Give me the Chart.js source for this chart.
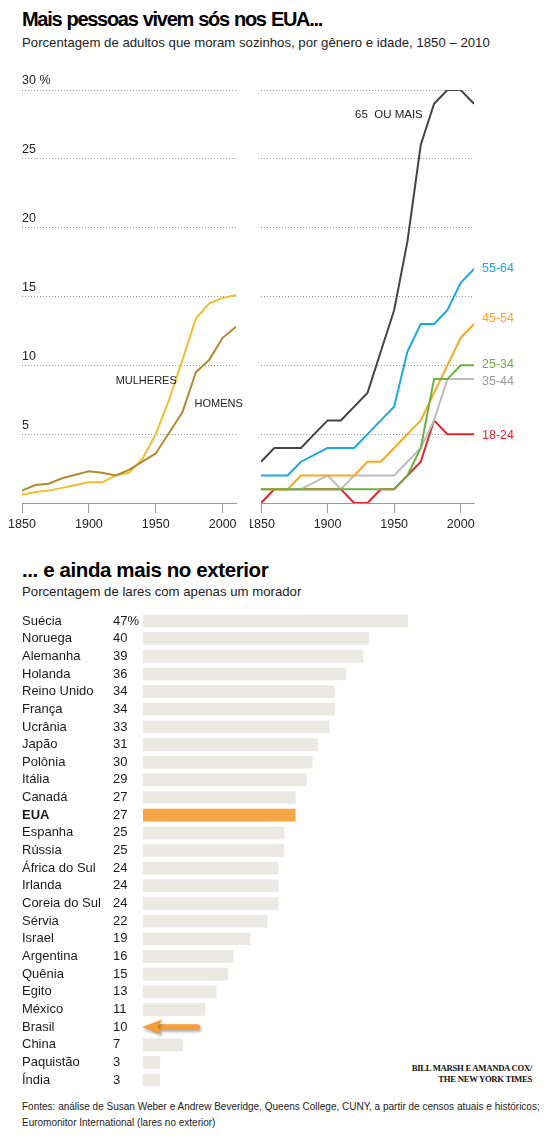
<!DOCTYPE html>
<html>
<head>
<meta charset="utf-8">
<script src="https://cdn.jsdelivr.net/npm/chart.js@4.4.1/dist/chart.umd.min.js"></script>
<style>
  html, body { margin: 0; padding: 0; background: #fff; }
  body { width: 550px; height: 1138px; position: relative; overflow: hidden; font-family: "Liberation Sans", Arial, sans-serif; color: #111; }
  .abs { position: absolute; white-space: nowrap; }
  #t1 { left: 22px; top: 8px; font-size: 20px; font-weight: bold; letter-spacing: -1.3px; word-spacing: 1px; color: #000; }
  #s1 { left: 22px; top: 35px; font-size: 13.2px; color: #222; }
  #t2 { left: 22px; top: 558px; font-size: 20.5px; font-weight: bold; letter-spacing: -0.4px; color: #000; }
  #s2 { left: 22px; top: 584px; font-size: 13.2px; color: #222; }
  #credit { right: 18px; top: 1063px; font-family: "Liberation Serif", "Times New Roman", serif; font-weight: bold; font-size: 8.7px; text-align: right; line-height: 11px; color: #111; letter-spacing: -0.3px; }
  #foot { left: 22px; top: 1099px; font-size: 10px; line-height: 16px; color: #222; }
  canvas { position: absolute; }
</style>
</head>
<body>
<div class="abs" id="t1">Mais pessoas vivem sós nos EUA...</div>
<div class="abs" id="s1">Porcentagem de adultos que moram sozinhos, por gênero e idade, 1850 – 2010</div>
<div class="abs" id="t2">... e ainda mais no exterior</div>
<div class="abs" id="s2">Porcentagem de lares com apenas um morador</div>
<div class="abs" id="credit">BILL MARSH E AMANDA COX/<br>THE NEW YORK TIMES</div>
<div class="abs" id="foot">Fontes: análise de Susan Weber e Andrew Beveridge, Queens College, CUNY, a partir de censos atuais e históricos;<br>Euromonitor International (lares no exterior)</div>

<div style="position:absolute;left:0;top:60px;width:250px;height:480px;"><canvas id="cLeft"></canvas></div>
<div style="position:absolute;left:250px;top:60px;width:300px;height:480px;"><canvas id="cRight"></canvas></div>
<div style="position:absolute;left:0;top:600px;width:550px;height:500px;"><canvas id="cBar"></canvas></div>

<script>
// ---------- DATA ----------
const years = [1850,1860,1870,1880,1890,1900,1910,1920,1930,1940,1950,1960,1970,1980,1990,2000,2010];
const xTickYears = [1850,1900,1950,2000];
const yTickValues = [0,5,10,15,20,25,30];

const mulheres = [0.6,0.8,0.9,1.1,1.3,1.5,1.5,2.0,2.2,3.2,5.0,7.5,10.4,13.4,14.5,14.9,15.1];
const homens   = [0.9,1.3,1.4,1.8,2.05,2.3,2.2,2.0,2.4,3.0,3.6,5.1,6.6,9.5,10.4,12.0,12.8];

const age65    = [3,4,4,4,5,6,6,7,8,11,14,19,26,29,30,30,29];
const age5564  = [2,2,2,3,3.5,4,4,4,5,6,7,11,13,13,14,16,17];
const age4554  = [1,1,1,2,2,2,2,2,3,3,4,5,6,8,10,12,13];
const age3544  = [1,1,1,1,1.5,2,1,2,2,2,2,3,4,6,9,9,9];
const age2534  = [1,1,1,1,1,1,1,1,1,1,1,2,4,9,9,10,10];
const age1824  = [0,1,1,1,1,1,1,0,0,1,1,2,3,6,5,5,5];

const countries = ["Suécia","Noruega","Alemanha","Holanda","Reino Unido","França","Ucrânia","Japão","Polônia","Itália","Canadá","EUA","Espanha","Rússia","África do Sul","Irlanda","Coreia do Sul","Sérvia","Israel","Argentina","Quênia","Egito","México","Brasil","China","Paquistão","Índia"];
const shares = [47,40,39,36,34,34,33,31,30,29,27,27,25,25,24,24,24,22,19,16,15,13,11,10,7,3,3];

// ---------- SHARED ----------
const FONT = '"Liberation Sans", Arial, sans-serif';
const pts = arr => arr.map((v,i) => ({x: years[i], y: v}));

function mkScales(showYLabels) {
  return {
    x: {
      type: 'linear', min: 1850, max: 2010,
      afterBuildTicks: s => { s.ticks = xTickYears.map(v => ({value: v})); },
      afterFit: s => { s.height = 37; s.paddingLeft = 0; s.paddingRight = 0; },
      grid: { drawOnChartArea: false, drawTicks: true, tickLength: 10, color: '#999', lineWidth: 1 },
      border: { display: true, color: '#999', width: 1 },
      ticks: { color: '#222', font: { family: FONT, size: 12.5 }, padding: 4, maxRotation: 0, callback: v => String(v) }
    },
    y: {
      min: 0, max: 30,
      afterBuildTicks: s => { s.ticks = yTickValues.map(v => ({value: v})); },
      afterFit: s => { s.width = 0; s.paddingTop = 0; s.paddingBottom = 0; },
      border: { display: false, dash: [1,2] },
      grid: {
        drawTicks: false, color: c => c.tick.value === 0 ? 'rgba(0,0,0,0)' : '#999',
        lineWidth: 1, borderDash: [1,2]
      },
      ticks: {
        display: showYLabels, mirror: true, padding: 0, labelOffset: -9,
        color: '#222', font: { family: FONT, size: 12.5 },
        callback: v => v === 0 ? '' : (v === 30 ? '30 %' : String(v))
      }
    }
  };
}

// text annotation plugin for line charts
function labelPlugin(labels) {
  return {
    id: 'lbl',
    afterDatasetsDraw(chart) {
      const ctx = chart.ctx;
      const xs = chart.scales.x, ys = chart.scales.y;
      ctx.save();
      labels.forEach(l => {
        ctx.font = (l.size || 11.5) + 'px ' + FONT;
        ctx.fillStyle = l.color;
        ctx.textAlign = l.align || 'left';
        ctx.textBaseline = 'middle';
        let x, y;
        if (l.dataset !== undefined) {
          const meta = chart.getDatasetMeta(l.dataset);
          const last = meta.data[meta.data.length - 1];
          x = last.x + (l.dx || 0);
          y = last.y + (l.dy || 0);
        } else {
          x = xs.getPixelForValue(l.x);
          y = ys.getPixelForValue(l.y);
        }
        ctx.fillText(l.text, x, y);
      });
      ctx.restore();
    }
  };
}

const baseLineOpts = (scales, padding) => ({
  responsive: true, maintainAspectRatio: false, animation: false,
  layout: { padding },
  plugins: { legend: { display: false }, tooltip: { enabled: false } },
  elements: { point: { radius: 0 }, line: { borderWidth: 2, tension: 0, borderJoinStyle: 'miter' } },
  scales
});

// ---------- LEFT CHART ----------
new Chart(document.getElementById('cLeft'), {
  type: 'line',
  data: { datasets: [
    { label: 'Homens', data: pts(homens), borderColor: '#b38b2d' },
    { label: 'Mulheres', data: pts(mulheres), borderColor: '#f1be2c' }
  ]},
  options: baseLineOpts(mkScales(true), { left: 22, right: 14, top: 30, bottom: 0 }),
  plugins: [labelPlugin([
    { text: 'MULHERES', x: 1920, y: 8.9, color: '#222', size: 11 },
    { text: 'HOMENS', x: 1979, y: 7.2, color: '#222', size: 11 }
  ])]
});

// ---------- RIGHT CHART ----------
new Chart(document.getElementById('cRight'), {
  type: 'line',
  data: { datasets: [
    { label: '25-34', data: pts(age2534), borderColor: '#6cb142' },
    { label: '45-54', data: pts(age4554), borderColor: '#f6a823' },
    { label: '35-44', data: pts(age3544), borderColor: '#bdbdbd' },
    { label: '18-24', data: pts(age1824), borderColor: '#e0262c' },
    { label: '55-64', data: pts(age5564), borderColor: '#1ba9e1' },
    { label: '65 OU MAIS', data: pts(age65), borderColor: '#444444' }
  ]},
  options: baseLineOpts(mkScales(false), { left: 11, right: 76, top: 30, bottom: 0 }),
  plugins: [labelPlugin([
    { text: '65  OU MAIS', x: 1971.5, y: 28.2, color: '#222', align: 'right' },
    { text: '55-64', dataset: 4, dx: 8, dy: 0, color: '#1ba9e1', size: 12.5 },
    { text: '45-54', dataset: 1, dx: 8, dy: -5, color: '#f6a823', size: 12.5 },
    { text: '25-34', dataset: 0, dx: 8, dy: -1, color: '#6cb142', size: 12.5 },
    { text: '35-44', dataset: 2, dx: 8, dy: 2, color: '#999999', size: 12.5 },
    { text: '18-24', dataset: 3, dx: 8, dy: 1, color: '#e0262c', size: 12.5 }
  ])]
});

// ---------- BAR CHART ----------
const barColors = countries.map(c => c === 'EUA' ? '#f7a545' : (c === 'Brasil' ? 'rgba(0,0,0,0)' : '#ebe9e3'));

const barLabels = {
  id: 'barLabels',
  afterDatasetsDraw(chart) {
    const ctx = chart.ctx;
    const meta = chart.getDatasetMeta(0);
    ctx.save();
    ctx.textBaseline = 'middle';
    ctx.textAlign = 'left';
    ctx.fillStyle = '#1a1a1a';
    meta.data.forEach((bar, i) => {
      const bold = countries[i] === 'EUA';
      ctx.font = (bold ? 'bold ' : '') + '13px ' + FONT;
      ctx.fillText(countries[i], 22, bar.y);
      ctx.font = '13px ' + FONT;
      ctx.fillText(i === 0 ? shares[i] + '%' : String(shares[i]), 113, bar.y);
    });
    // arrow on Brasil
    const bi = countries.indexOf('Brasil');
    const b = meta.data[bi];
    const tipX = b.base, tailX = b.x, y = b.y;
    ctx.shadowColor = 'rgba(0,0,0,0.35)';
    ctx.shadowBlur = 3;
    ctx.shadowOffsetX = 1;
    ctx.shadowOffsetY = 2;
    ctx.fillStyle = '#f59f3a';
    ctx.strokeStyle = '#f59f3a';
    ctx.lineCap = 'round';
    ctx.lineWidth = 5.5;
    ctx.beginPath();
    ctx.moveTo(tailX - 2, y);
    ctx.lineTo(tipX + 12, y);
    ctx.stroke();
    ctx.beginPath();
    ctx.moveTo(tipX - 1, y);
    ctx.lineTo(tipX + 19, y - 7.5);
    ctx.lineTo(tipX + 15, y);
    ctx.lineTo(tipX + 19, y + 7.5);
    ctx.closePath();
    ctx.fill();
    ctx.restore();
  }
};

new Chart(document.getElementById('cBar'), {
  type: 'bar',
  data: { labels: countries, datasets: [{ data: shares, backgroundColor: barColors, barThickness: 12, borderWidth: 0 }] },
  options: {
    indexAxis: 'y',
    responsive: true, maintainAspectRatio: false, animation: false,
    layout: { padding: { left: 143, right: 142, top: 12.2, bottom: 11.2 } },
    plugins: { legend: { display: false }, tooltip: { enabled: false } },
    scales: {
      x: { display: false, min: 0, max: 47 },
      y: { display: false }
    }
  },
  plugins: [barLabels]
});
</script>
</body>
</html>
